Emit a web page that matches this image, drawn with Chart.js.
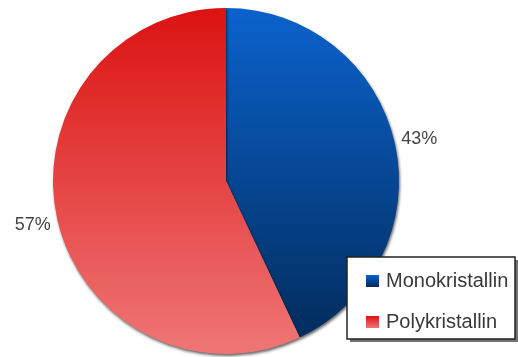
<!DOCTYPE html>
<html>
<head>
<meta charset="utf-8">
<script src="https://cdn.jsdelivr.net/npm/chart.js@4/dist/chart.umd.min.js"></script>
<style>
  html, body { margin: 0; padding: 0; background: #fff; }
  #wrap { width: 518px; height: 357px; position: relative; }
</style>
</head>
<body>
<div id="wrap"><canvas id="pie"></canvas></div>
<script>
const labels = ['Monokristallin', 'Polykristallin'];
const shares = [43, 57];
// top / bottom colours of each slice's vertical gradient
const topColors = ['#0b62cc', '#dc1212'];
const bottomColors = ['#022a58', '#ef7676'];

function sliceFill(ctx) {
    const area = ctx.chart.chartArea;
    if (!area) return topColors[ctx.dataIndex];
    const g = ctx.chart.ctx.createLinearGradient(0, area.top, 0, area.bottom);
    g.addColorStop(0, topColors[ctx.dataIndex]);
    g.addColorStop(1, bottomColors[ctx.dataIndex]);
    return g;
}

// soft drop shadow under the pie
const pieShadow = {
    id: 'pieShadow',
    beforeDatasetsDraw(chart) {
        const c = chart.ctx;
        c.save();
        c.shadowColor = 'rgba(0,0,0,0.6)';
        c.shadowBlur = 3;
        c.shadowOffsetX = 1;
        c.shadowOffsetY = 2;
    },
    afterDatasetsDraw(chart) {
        chart.ctx.restore();
    }
};

// percentage labels outside each slice + boxed legend
const extras = {
    id: 'extras',
    afterDraw(chart) {
        const c = chart.ctx;
        const meta = chart.getDatasetMeta(0);
        c.save();
        c.font = '18px "Liberation Sans", Arial, sans-serif';
        c.fillStyle = '#444';
        c.textAlign = 'center';
        c.textBaseline = 'middle';
        meta.data.forEach((arc, i) => {
            const mid = (arc.startAngle + arc.endAngle) / 2;
            const r = arc.outerRadius + 25;
            c.fillText(shares[i] + '%', arc.x + Math.cos(mid) * r, arc.y + Math.sin(mid) * r + 1);
        });

        // legend box
        const bx = 347, by = 257, bw = 168, bh = 82;
        c.fillStyle = 'rgba(0,0,0,0.55)';
        c.fillRect(bx + 3, by + 3, bw, bh);
        c.fillStyle = '#fff';
        c.fillRect(bx, by, bw, bh);
        c.strokeStyle = '#222';
        c.lineWidth = 1.5;
        c.strokeRect(bx, by, bw, bh);

        c.textAlign = 'left';
        c.font = '20px "Liberation Sans", Arial, sans-serif';
        labels.forEach((name, i) => {
            const y = by + 24 + i * 41;
            const g = c.createLinearGradient(0, y - 6, 0, y + 6);
            g.addColorStop(0, topColors[i]);
            g.addColorStop(1, bottomColors[i]);
            c.fillStyle = g;
            c.fillRect(366, y - 6, 13, 12);
            c.fillStyle = '#383838';
            c.fillText(name, 386, y);
        });
        c.restore();
    }
};

new Chart(document.getElementById('pie'), {
    type: 'pie',
    data: {
        labels: labels,
        datasets: [{
            data: shares,
            backgroundColor: sliceFill,
            borderWidth: 0
        }]
    },
    options: {
        responsive: true,
        maintainAspectRatio: false,
        animation: false,
        layout: { padding: { left: 53, right: 119, top: 8, bottom: 3 } },
        plugins: {
            legend: { display: false },
            tooltip: { enabled: false }
        }
    },
    plugins: [pieShadow, extras]
});
</script>
</body>
</html>
